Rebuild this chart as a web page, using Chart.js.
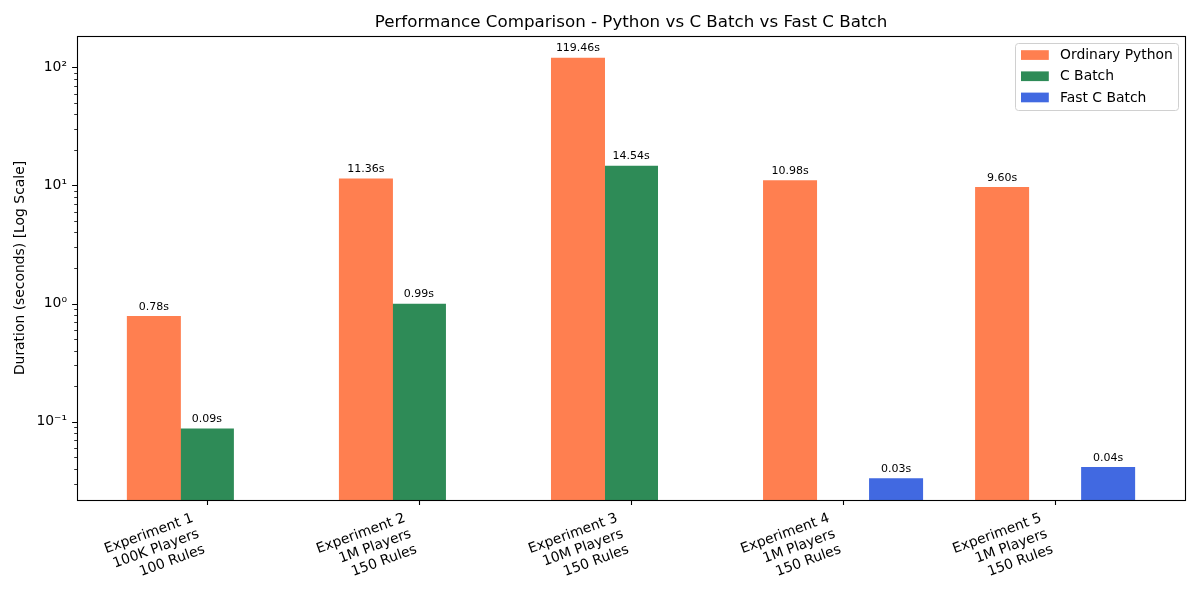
<!DOCTYPE html>
<html>
<head>
<meta charset="utf-8">
<script src="https://cdn.jsdelivr.net/npm/chart.js@4"></script>
<style>
  html, body { margin: 0; padding: 0; background: #fff; }
  #wrap { width: 1200px; height: 600px; }
</style>
</head>
<body>
<div id="wrap"><canvas id="myChart"></canvas></div>
<script>
// data
const experiments = [
  ['Experiment 1', '100K Players', '100 Rules'],
  ['Experiment 2', '1M Players', '150 Rules'],
  ['Experiment 3', '10M Players', '150 Rules'],
  ['Experiment 4', '1M Players', '150 Rules'],
  ['Experiment 5', '1M Players', '150 Rules']
];
const seriesNames = ['Ordinary Python', 'C Batch', 'Fast C Batch'];
const pythonTimes = [0.78, 11.36, 119.46, 10.98, 9.60];
const cBatchTimes = [0.087, 0.99, 14.54, null, null];
const fastCTimes = [null, null, null, 0.033, 0.041];
const seriesColors = ['#FF7F50', '#2E8B57', '#4169E1'];
const yMajorTicks = [0.1, 1, 10, 100];
const yTickLabels = ['10\u207B\u00B9', '10\u2070', '10\u00B9', '10\u00B2'];

const FONT = 'DejaVu Sans';
const toPoints = arr => arr.map((v, i) => ({ x: i, y: v }));

const data = {
  datasets: [pythonTimes, cBatchTimes, fastCTimes].map((vals, k) => ({
    label: seriesNames[k],
    data: toPoints(vals),
    backgroundColor: seriesColors[k],
    borderWidth: 0,
    inflateAmount: 0.5,
    categoryPercentage: 0.75,
    barPercentage: 1.0
  }))
};

// spines, tick marks, value labels, title and legend drawn like matplotlib
const mplExtras = {
  id: 'mplExtras',
  afterDraw(chart) {
    const ctx = chart.ctx;
    const a = chart.chartArea;
    const xs = chart.scales.x, ys = chart.scales.y;
    ctx.save();

    // value labels
    ctx.font = '11px "' + FONT + '"';
    ctx.fillStyle = '#000';
    ctx.textAlign = 'center';
    ctx.textBaseline = 'alphabetic';
    chart.data.datasets.forEach((ds, k) => {
      chart.getDatasetMeta(k).data.forEach((bar, i) => {
        const v = ds.data[i].y;
        if (v == null) return;
        ctx.fillText(v.toFixed(2) + 's', bar.x, bar.y - 6.8);
      });
    });

    // frame
    ctx.strokeStyle = '#000';
    ctx.lineWidth = 1.1;
    ctx.strokeRect(Math.round(a.left) + 0.5, Math.round(a.top) + 0.5,
      Math.round(a.right - a.left), Math.round(a.bottom - a.top));

    // x ticks
    ctx.beginPath();
    experiments.forEach((e, i) => {
      const px = Math.round(xs.getPixelForValue(i)) + 0.5;
      ctx.moveTo(px, a.bottom);
      ctx.lineTo(px, a.bottom + 4.9);
    });
    // y major ticks
    yMajorTicks.forEach(v => {
      const py = Math.round(ys.getPixelForValue(v)) + 0.5;
      ctx.moveTo(a.left, py);
      ctx.lineTo(a.left - 4.9, py);
    });
    ctx.stroke();
    // y minor ticks
    ctx.lineWidth = 0.8;
    ctx.beginPath();
    for (let e = -2; e <= 2; e++) {
      for (let m = 2; m <= 9; m++) {
        const v = m * Math.pow(10, e);
        if (v < ys.min || v > ys.max) continue;
        const py = Math.round(ys.getPixelForValue(v)) + 0.5;
        ctx.moveTo(a.left, py);
        ctx.lineTo(a.left - 2.8, py);
      }
    }
    ctx.stroke();

    // title
    ctx.font = '16.7px "' + FONT + '"';
    ctx.textAlign = 'center';
    ctx.fillText('Performance Comparison - Python vs C Batch vs Fast C Batch', (a.left + a.right) / 2, 27);

    // legend
    const lw = 163, lh = 67;
    const lx = a.right - 7 - lw, ly = a.top + 7;
    ctx.fillStyle = 'rgba(255,255,255,0.8)';
    ctx.strokeStyle = '#d0d0d0';
    ctx.lineWidth = 1;
    ctx.beginPath();
    ctx.roundRect(lx + 0.5, ly + 0.5, lw, lh, 3);
    ctx.fill();
    ctx.stroke();
    ctx.font = '13.9px "' + FONT + '"';
    ctx.textAlign = 'left';
    ctx.textBaseline = 'middle';
    seriesNames.forEach((name, k) => {
      const cy = ly + 12 + k * 21.2;
      ctx.fillStyle = seriesColors[k];
      ctx.fillRect(lx + 6, cy - 4.8, 27.8, 9.7);
      ctx.fillStyle = '#000';
      ctx.fillText(name, lx + 45, cy + 0.5);
    });

    ctx.restore();
  }
};

const config = {
  type: 'bar',
  data,
  options: {
    responsive: true,
    maintainAspectRatio: false,
    animation: false,
    layout: { padding: { top: 36, right: 15, left: 0, bottom: 0 } },
    plugins: {
      legend: { display: false },
      title: { display: false },
      tooltip: { enabled: false }
    },
    scales: {
      x: {
        type: 'linear',
        min: -0.6125,
        max: 4.6125,
        offset: false,
        grid: { display: false, drawTicks: false },
        border: { display: false },
        afterBuildTicks: s => { s.ticks = experiments.map((e, i) => ({ value: i })); },
        afterFit: s => { s.height = 100; },
        ticks: {
          autoSkip: false,
          minRotation: 20,
          maxRotation: 20,
          padding: 10,
          labelOffset: -14,
          color: '#000',
          font: { family: FONT, size: 13.9 },
          callback: v => experiments[v]
        }
      },
      y: {
        type: 'logarithmic',
        min: 0.0218,
        max: 184,
        grid: { display: false, drawTicks: false },
        border: { display: false },
        afterBuildTicks: s => { s.ticks = yMajorTicks.map(v => ({ value: v, major: true })); },
        afterFit: s => { s.width = 77; },
        ticks: {
          autoSkip: false,
          padding: 10,
          color: '#000',
          font: { family: FONT, size: 13.9 },
          callback: v => yTickLabels[yMajorTicks.indexOf(v)]
        },
        title: {
          display: true,
          text: 'Duration (seconds) [Log Scale]',
          color: '#000',
          font: { family: FONT, size: 13.9 },
          padding: { top: 12, bottom: 0 }
        }
      }
    }
  },
  plugins: [mplExtras]
};

const myChart = new Chart(document.getElementById('myChart'), config);
</script>
</body>
</html>
